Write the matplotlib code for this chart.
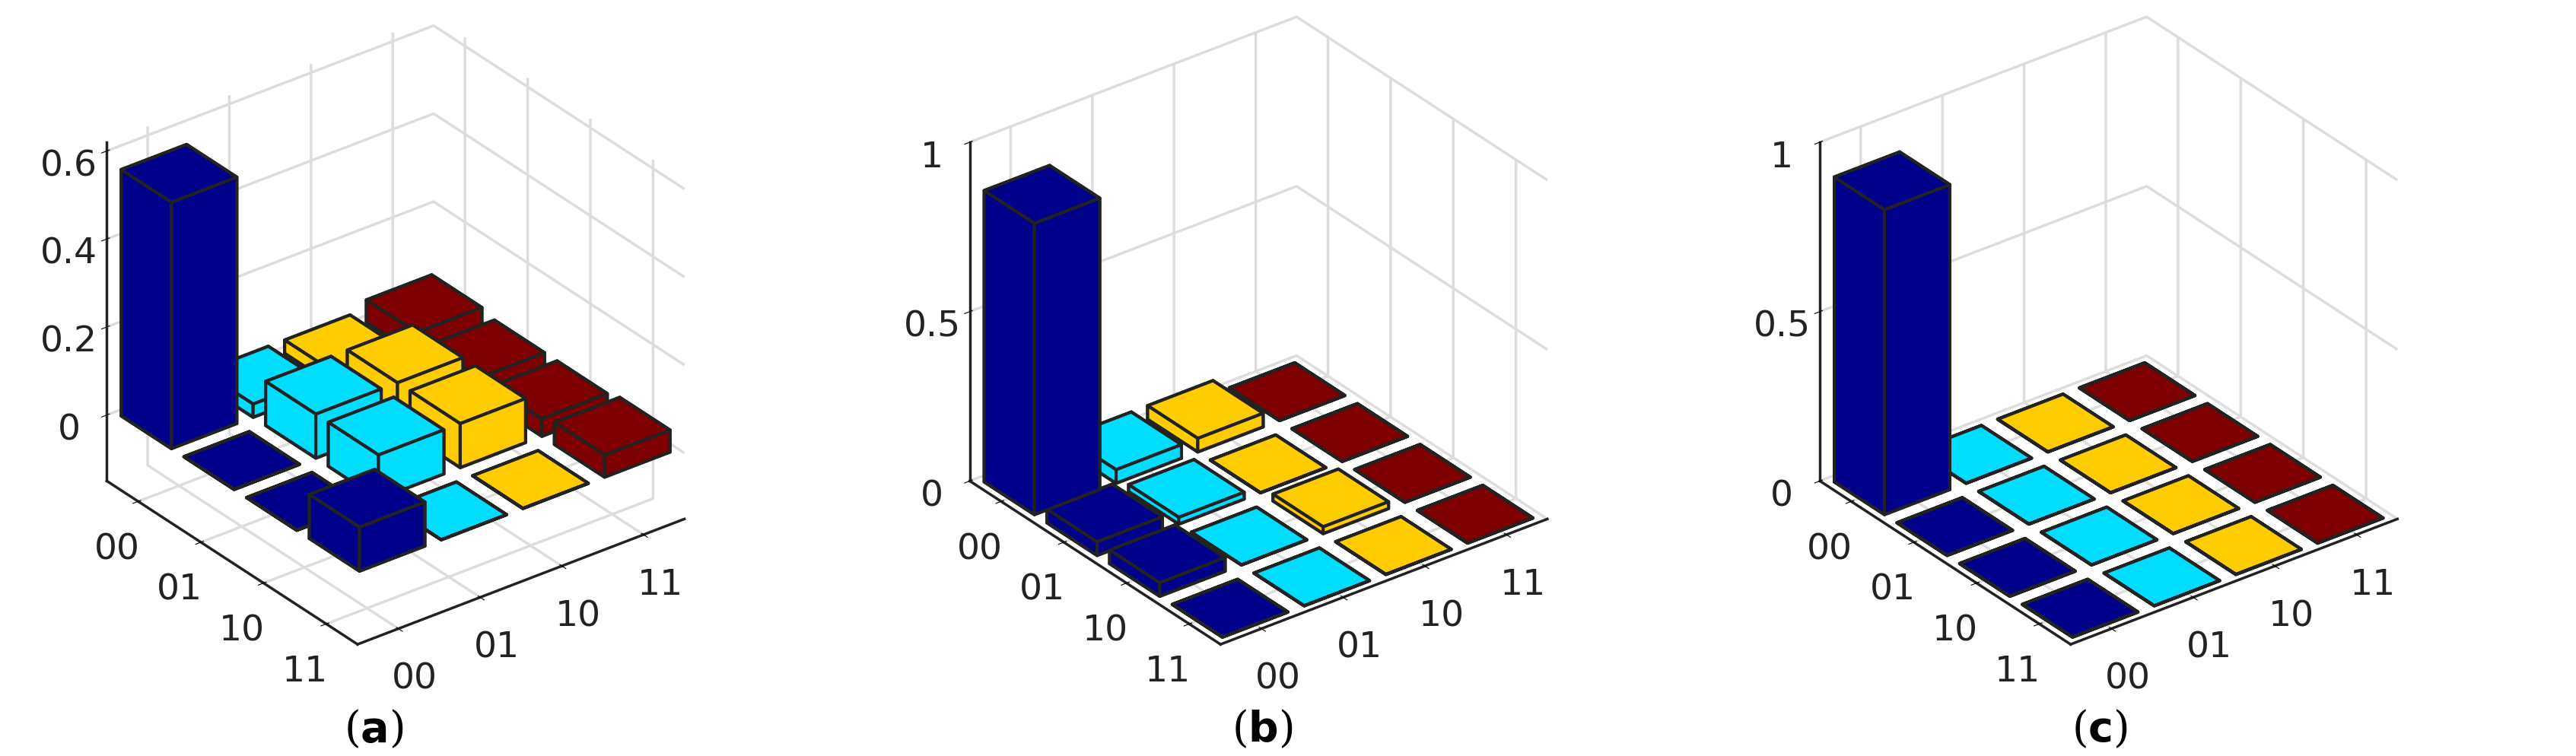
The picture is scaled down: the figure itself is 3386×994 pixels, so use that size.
import numpy as np
import matplotlib
matplotlib.use("Agg")
import matplotlib.pyplot as plt

labels = ["00", "01", "10", "11"]
col_colors = ["#00008B", "#00DDFF", "#FFCC00", "#7F0000"]

rho_a = [[0.56, 0.03, 0.03, 0.05],
         [0.00, 0.10, 0.10, 0.04],
         [0.00, 0.10, 0.10, 0.04],
         [0.10, 0.00, 0.00, 0.05]]
rho_b = [[0.86, 0.04, 0.04, 0.00],
         [0.04, 0.02, 0.00, 0.00],
         [0.04, 0.00, 0.02, 0.00],
         [0.00, 0.00, 0.00, 0.00]]
rho_c = [[0.90, 0.00, 0.00, 0.00],
         [0.00, 0.00, 0.00, 0.00],
         [0.00, 0.00, 0.00, 0.00],
         [0.00, 0.00, 0.00, 0.00]]

panels = [(rho_a, (-0.15, 0.62), [0, 0.2, 0.4, 0.6], ["0", "0.2", "0.4", "0.6"], "a"),
          (rho_b, (0, 1), [0, 0.5, 1], ["0", "0.5", "1"], "b"),
          (rho_c, (0, 1), [0, 0.5, 1], ["0", "0.5", "1"], "c")]

fig = plt.figure(figsize=(33.86, 9.95), dpi=100)
rects = [[0.0, 0.10, 0.30, 0.90], [0.33, 0.10, 0.31, 0.90], [0.66, 0.10, 0.31, 0.90]]
lab_x = [0.145, 0.49, 0.815]
w = 0.8
for k, (rho, zl, zt, ztl, name) in enumerate(panels):
    ax = fig.add_axes(rects[k], projection="3d")
    ax.set_proj_type("ortho")
    for r in range(4):
        for c in range(4):
            v = rho[r][c]
            ax.bar3d(c - w/2, r - w/2, 0, w, w, max(v, 1e-4), color=col_colors[c],
                     edgecolor="#222222", linewidth=3, shade=False)
    ax.set_xlim(-0.5, 3.5)
    ax.set_ylim(3.5, -0.5)
    ax.set_zlim(*zl)
    ax.set_xticks(range(4)); ax.set_xticklabels(labels, fontsize=34, color="#222222")
    ax.set_yticks(range(4)); ax.set_yticklabels(labels, fontsize=34, color="#222222")
    ax.set_zticks(zt); ax.set_zticklabels(ztl, fontsize=34, color="#222222")
    ax.tick_params(axis="x", pad=14)
    ax.tick_params(axis="y", pad=14)
    ax.tick_params(axis="z", pad=14)
    ax.view_init(elev=30, azim=-127.5)
    for a in (ax.xaxis, ax.yaxis, ax.zaxis):
        a.pane.set_facecolor((1, 1, 1, 0))
        a.pane.set_edgecolor((1, 1, 1, 0))
        a._axinfo["grid"]["color"] = "#dddddd"
        a._axinfo["grid"]["linewidth"] = 2.5
        a.line.set_color("#222222")
        a.line.set_linewidth(2.5)
    ax.set_box_aspect((1, 1, 0.95))
    fig.text(lab_x[k], 0.02, "(" + r"$\mathbf{" + name + "}$" + ")", fontsize=40,
             ha="center", family="DejaVu Serif")

fig.savefig("out.png", dpi=100)
